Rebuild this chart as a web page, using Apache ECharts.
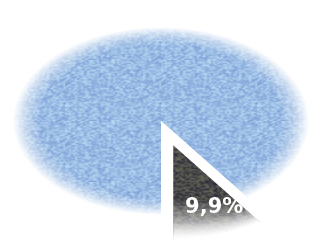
<!DOCTYPE html>
<html>
<head>
<meta charset="utf-8">
<script src="https://cdn.jsdelivr.net/npm/echarts@6/dist/echarts.min.js"></script>
<style>
  html, body { margin: 0; padding: 0; background: #fff; }
  #chart { width: 318px; height: 247px; }
</style>
</head>
<body>
<div id="chart"></div>
<script>
// data
const categories = ["others", "segment"];
const values = [90.1, 9.9];
const labels = ["", "9,9%"];
const explodeIndex = 1;

const total = values.reduce((a, b) => a + b, 0);

// grainy fill texture (fixed seed, decoration only)
function grain(r, g, b, amp, seed) {
  const small = 48, size = 96;
  const src = document.createElement("canvas");
  src.width = src.height = small;
  const sctx = src.getContext("2d");
  const img = sctx.createImageData(small, small);
  let s = seed;
  for (let i = 0; i < small * small; i++) {
    s = (s * 1103515245 + 12345) & 0x7fffffff;
    const n = ((s >> 8) % (2 * amp + 1)) - amp;
    img.data[i * 4] = Math.max(0, Math.min(255, r + n));
    img.data[i * 4 + 1] = Math.max(0, Math.min(255, g + n));
    img.data[i * 4 + 2] = Math.max(0, Math.min(255, b + n * 0.5));
    img.data[i * 4 + 3] = 255;
  }
  sctx.putImageData(img, 0, 0);
  const c = document.createElement("canvas");
  c.width = c.height = size;
  const ctx = c.getContext("2d");
  ctx.imageSmoothingEnabled = true;
  ctx.drawImage(src, 0, 0, size, size);
  return { image: c, repeat: "repeat" };
}
const blueFill = grain(156, 189, 229, 30, 20231);
const darkFill = grain(72, 72, 72, 38, 777);

const cx = 161, cy = 121, rx = 156, ry = 99;
const k = ry / rx;
const startAngle = Math.PI / 2; // bottom, going clockwise
const explode = 40;

// sector around (0,0) in circle space, squashed later by scaleY
function sectorPoints(a0, a1, r) {
  const pts = [[0, 0]];
  const steps = Math.max(4, Math.ceil(Math.abs(a1 - a0) / 0.02));
  for (let i = 0; i <= steps; i++) {
    const a = a0 + (a1 - a0) * i / steps;
    pts.push([r * Math.cos(a), r * Math.sin(a)]);
  }
  return pts;
}

const edgeFade = new echarts.graphic.RadialGradient(0, 0, rx, [
  { offset: 0, color: "rgba(255,255,255,0)" },
  { offset: 0.78, color: "rgba(255,255,255,0)" },
  { offset: 0.88, color: "rgba(255,255,255,0.5)" },
  { offset: 0.95, color: "rgba(255,255,255,1)" },
  { offset: 1, color: "rgba(255,255,255,1)" }
], true);

const chart = echarts.init(document.getElementById("chart"));
chart.setOption({
  animation: false,
  series: [{
    type: "custom",
    coordinateSystem: "none",
    data: values.map((v, i) => ({ name: categories[i], value: v })),
    renderItem: function (params, api) {
      const i = params.dataIndex;
      let before = 0;
      for (let j = 0; j < i; j++) before += values[j];
      const a0 = startAngle + before / total * Math.PI * 2;
      const a1 = a0 + api.value(0) / total * Math.PI * 2;
      const pts = sectorPoints(a0, a1, rx);
      const inner = sectorPoints(a0, a1, rx * 0.96);
      if (i !== explodeIndex) {
        return {
          type: "group",
          x: cx, y: cy, scaleY: k,
          children: [
            { type: "polygon", z2: 1, shape: { points: inner }, style: { fill: blueFill } },
            { type: "polygon", z2: 2, shape: { points: pts }, style: { fill: edgeFade } }
          ]
        };
      }
      const m = (a0 + a1) / 2;
      const ox = cx + explode * Math.cos(m);
      const oy = cy + explode * Math.sin(m) * k;
      return {
        type: "group",
        children: [
          {
            type: "polygon", z2: 5,
            x: cx, y: cy, scaleY: k,
            shape: { points: sectorPoints(a0, a1, rx * 2) },
            style: { fill: "#fff" }
          },
          {
            type: "polygon", z2: 6,
            x: ox, y: oy, scaleY: k,
            shape: { points: inner },
            style: { fill: darkFill }
          },
          {
            type: "polygon", z2: 7,
            x: ox, y: oy, scaleY: k,
            shape: { points: pts },
            style: {
              fill: new echarts.graphic.LinearGradient(0, 0, 0, 1, [
                { offset: 0, color: "rgba(255,255,255,0)" },
                { offset: 0.55, color: "rgba(255,255,255,0)" },
                { offset: 0.8, color: "rgba(255,255,255,0.6)" },
                { offset: 1, color: "rgba(255,255,255,1)" }
              ])
            }
          },
          {
            type: "polygon", z2: 7,
            x: ox, y: oy, scaleY: k,
            shape: { points: pts },
            style: { fill: edgeFade }
          },
          {
            type: "text", z2: 8,
            x: ox + 41, y: oy + 62,
            style: {
              text: labels[i],
              fill: "#fff",
              font: "bold 21px 'DejaVu Sans'",
              align: "center",
              verticalAlign: "middle"
            }
          }
        ]
      };
    }
  }]
});
</script>
</body>
</html>
